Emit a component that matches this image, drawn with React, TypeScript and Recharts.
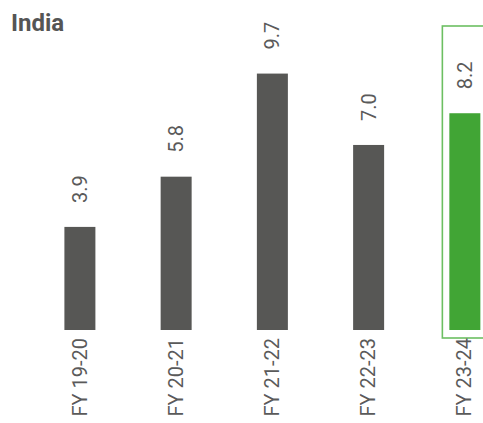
import { Bar, BarChart, Cell, LabelList, XAxis, YAxis } from "recharts"

// GDP growth, India (%)
const years = ["FY 19-20", "FY 20-21", "FY 21-22", "FY 22-23", "FY 23-24"]
const growth = [3.9, 5.8, 9.7, 7.0, 8.2]
const highlightYear = "FY 23-24"

const chartData = years.map((year, i) => ({ year, growth: growth[i] }))

const GREY = "#575755"
const GREEN = "#41a535"
const TEXT = "#5a5a5a"

// bar with an outline box around the highlighted year
const HighlightBar = (props: any) => {
  const { x, y, width, height, fill, background, payload } = props
  const isHighlight = payload?.year === highlightYear
  return (
    <g>
      {isHighlight && background && (
        <rect
          x={x - 7}
          y={background.y}
          width={width + 14}
          height={background.height + 8}
          fill="none"
          stroke="#6cbf62"
          strokeWidth={1.6}
        />
      )}
      <rect x={x} y={y} width={width} height={height} fill={fill} />
    </g>
  )
}

const ValueLabel = (props: any) => {
  const { x, y, width, value } = props
  const cx = x + width / 2
  const cy = y - 24
  return (
    <text
      x={cx}
      y={cy}
      dy="0.35em"
      transform={`rotate(-90, ${cx}, ${cy})`}
      textAnchor="start"
      fill={TEXT}
      fontSize={20}
      fontFamily="Roboto, sans-serif"
    >
      {Number(value).toFixed(1)}
    </text>
  )
}

const YearTick = (props: any) => {
  const { x, y, payload } = props
  return (
    <text
      x={x}
      y={y}
      dy="0.35em"
      transform={`rotate(-90, ${x}, ${y})`}
      textAnchor="end"
      fill={TEXT}
      fontSize={20}
      fontFamily="Roboto, sans-serif"
    >
      {payload.value}
    </text>
  )
}

const App = () => {
  return (
    <div
      style={{
        position: "fixed",
        top: 0,
        left: 0,
        width: 483,
        height: 423,
        overflow: "hidden",
        background: "#fff",
      }}
    >
      <div
        style={{
          position: "absolute",
          left: 11,
          top: 11,
          fontFamily: "Roboto, sans-serif",
          fontWeight: 700,
          fontSize: 24,
          lineHeight: "24px",
          color: "#555555",
          zIndex: 1,
        }}
      >
        India
      </div>
      <BarChart
        width={530}
        height={423}
        data={chartData}
        margin={{ top: 26, right: 17.4, bottom: 0, left: 31.4 }}
      >
        <XAxis
          dataKey="year"
          axisLine={false}
          tickLine={false}
          interval={0}
          height={93}
          tick={<YearTick />}
        />
        <YAxis hide domain={[0, 11.5]} />
        <Bar
          dataKey="growth"
          barSize={31}
          isAnimationActive={false}
          shape={<HighlightBar />}
          background={{ fill: "transparent" }}
        >
          {chartData.map((d) => (
            <Cell key={d.year} fill={d.year === highlightYear ? GREEN : GREY} />
          ))}
          <LabelList dataKey="growth" content={<ValueLabel />} />
        </Bar>
      </BarChart>
    </div>
  )
}

export default App
